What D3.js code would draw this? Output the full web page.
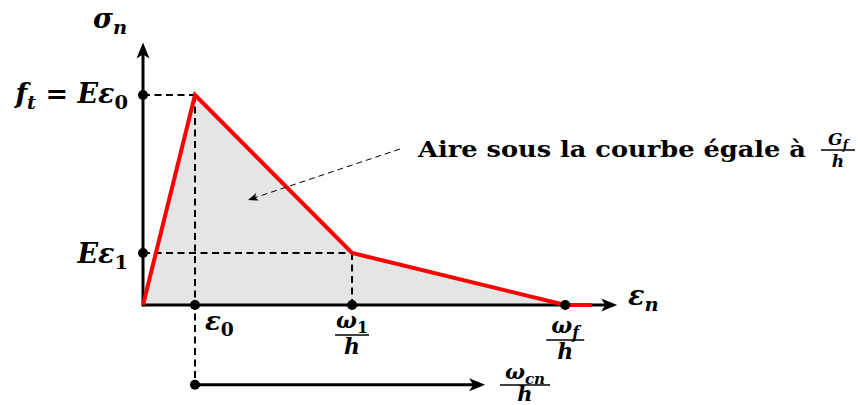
<!DOCTYPE html>
<html>
<head>
<meta charset="utf-8">
<script src="https://cdn.jsdelivr.net/npm/d3@7"></script>
<style>
  body { margin: 0; background: #fff; }
  svg { display: block; }
  text { font-family: "DejaVu Serif", "Liberation Serif", serif; font-weight: bold; fill: #000; }
</style>
</head>
<body>
<svg id="chart" width="858" height="405"></svg>
<script>
// Bilinear softening law, normalised units (strain in units of ε0, stress in units of ft)
const strainPoints = [0, 1, 4.02, 8.12];   // 0, ε0, ω1/h, ωf/h
const stressPoints = [0, 1, 0.248, 0];     // 0, ft, Eε1, 0
const tailStrain = 8.63;                   // zero-stress segment beyond ωf/h
const axisExtent = [9.12, 1.25];           // arrow tips of the ε and σ axes
const crackArrow = [1, 6.58, -0.38];       // from ε0 to ωcn/h, drawn below the axis

// Labels: each is a list of [text, kind] where kind is "i" (italic), "r" (roman), "si"/"sr" (subscript)
const axisLabelX = [["ε", "i"], ["n", "si"]];
const axisLabelY = [["σ", "i"], ["n", "si"]];
const stressLabels = [
  [["f", "i"], ["t", "si"], [" = ", "r"], ["Eε", "i"], ["0", "sr"]],
  [["Eε", "i"], ["1", "sr"]]
];
const strainLabelEps0 = [["ε", "i"], ["0", "sr"]];
const fractionLabels = [
  { num: [["ω", "i"], ["1", "sr"]], den: [["h", "i"]] },
  { num: [["ω", "i"], ["f", "si"]], den: [["h", "i"]] }
];
const crackLabel = { num: [["ω", "i"], ["cn", "si"]], den: [["h", "i"]] };
const noteText = "Aire sous la courbe égale à";
const noteFrac = { num: [["G", "i"], ["f", "si"]], den: [["h", "i"]] };

const svg = d3.select("#chart");
const x = d3.scaleLinear().domain([0, 1]).range([143, 195]);
const y = d3.scaleLinear().domain([0, 1]).range([305, 95]);

const curve = strainPoints.map((e, i) => [e, stressPoints[i]]);

// shaded area under the curve
svg.append("path")
  .attr("d", d3.line().x(d => x(d[0])).y(d => y(d[1]))(curve) + "Z")
  .attr("fill", "#e5e5e5");

// dashed guide lines
const dash = svg.append("g").attr("stroke", "#000").attr("stroke-width", 2)
  .attr("stroke-dasharray", "7,4.5").attr("fill", "none");
const peak = curve[1], knee = curve[2];
dash.append("line").attr("x1", x(0)).attr("y1", y(peak[1])).attr("x2", x(peak[0])).attr("y2", y(peak[1]));
dash.append("line").attr("x1", x(peak[0])).attr("y1", y(peak[1])).attr("x2", x(peak[0])).attr("y2", y(crackArrow[2]));
dash.append("line").attr("x1", x(0)).attr("y1", y(knee[1])).attr("x2", x(knee[0])).attr("y2", y(knee[1]));
dash.append("line").attr("x1", x(knee[0])).attr("y1", y(knee[1])).attr("x2", x(knee[0])).attr("y2", y(0));

// arrowhead (stealth-like), tip at (tx, ty), pointing along angle
function arrowHead(tx, ty, angle, len, half) {
  svg.append("path")
    .attr("d", `M0,0 L${-len},${-half} L${-len * 0.75},0 L${-len},${half} Z`)
    .attr("transform", `translate(${tx},${ty}) rotate(${angle})`)
    .attr("fill", "#000");
}

// axes
svg.append("line").attr("x1", x(0)).attr("y1", y(0)).attr("x2", x(axisExtent[0]) - 10).attr("y2", y(0))
  .attr("stroke", "#000").attr("stroke-width", 3);
arrowHead(x(axisExtent[0]), y(0), 0, 16, 6.5);
svg.append("line").attr("x1", x(0)).attr("y1", y(0) + 1.5).attr("x2", x(0)).attr("y2", y(axisExtent[1]) + 10)
  .attr("stroke", "#000").attr("stroke-width", 3);
arrowHead(x(0), y(axisExtent[1]), -90, 16, 6.5);

// crack-opening arrow below the axis
svg.append("line").attr("x1", x(crackArrow[0])).attr("y1", y(crackArrow[2]))
  .attr("x2", x(crackArrow[1]) - 10).attr("y2", y(crackArrow[2]))
  .attr("stroke", "#000").attr("stroke-width", 3);
arrowHead(x(crackArrow[1]), y(crackArrow[2]), 0, 16, 6.5);

// softening curve
svg.append("path")
  .attr("d", d3.line().x(d => x(d[0])).y(d => y(d[1]))(curve.concat([[tailStrain, 0]])))
  .attr("fill", "none").attr("stroke", "#ff0000").attr("stroke-width", 4)
  .attr("stroke-linejoin", "miter");

// marker dots
const dots = [[0, peak[1]], [0, knee[1]], [peak[0], 0], [knee[0], 0], [curve[3][0], 0], [crackArrow[0], crackArrow[2]]];
svg.append("g").selectAll("circle").data(dots).join("circle")
  .attr("cx", d => x(d[0])).attr("cy", d => y(d[1])).attr("r", 5).attr("fill", "#000");

// math text helper
function mathText(px, py, parts, size, anchor) {
  const t = svg.append("text").attr("x", px).attr("y", py)
    .attr("font-size", size).attr("text-anchor", anchor || "start");
  let shifted = 0;
  parts.forEach(([s, kind]) => {
    const sub = kind[0] === "s";
    const italic = kind.endsWith("i");
    const target = sub ? size * 0.22 : 0;
    t.append("tspan")
      .attr("dy", target - shifted)
      .attr("font-size", sub ? size * 0.72 : size)
      .attr("font-style", italic ? "italic" : "normal")
      .text(s);
    shifted = target;
  });
  return t;
}

function fraction(cx, barY, frac, size, barHalf, numGap, denGap) {
  mathText(cx, barY - numGap, frac.num, size, "middle");
  mathText(cx, barY + denGap, frac.den, size, "middle");
  svg.append("line").attr("x1", cx - barHalf).attr("x2", cx + barHalf)
    .attr("y1", barY).attr("y2", barY).attr("stroke", "#000").attr("stroke-width", 1.5);
}

// axis labels
mathText(93, 28, axisLabelY, 27);
mathText(628, 305, axisLabelX, 27);

// stress labels on the σ axis
mathText(128, 103, stressLabels[0], 27, "end");
mathText(128, 263, stressLabels[1], 27, "end");

// strain labels under the ε axis
mathText(205, 330, strainLabelEps0, 26);
fraction(x(knee[0]), 335, fractionLabels[0], 22, 17, 7, 19);
fraction(x(curve[3][0]), 340, fractionLabels[1], 22, 19, 7, 19);
fraction(525, 385, crackLabel, 21, 25, 6, 16);

// annotation
svg.append("text").attr("x", 418).attr("y", 157).attr("font-size", 23)
  .attr("textLength", 388).attr("lengthAdjust", "spacingAndGlyphs").text(noteText);
fraction(838, 150, noteFrac, 17, 17, 5, 17);

svg.append("line").attr("x1", 400).attr("y1", 149).attr("x2", 254).attr("y2", 198)
  .attr("stroke", "#000").attr("stroke-width", 1).attr("stroke-dasharray", "6,4");
arrowHead(248, 200, Math.atan2(200 - 149, 248 - 400) * 180 / Math.PI, 10, 4);
</script>
</body>
</html>
